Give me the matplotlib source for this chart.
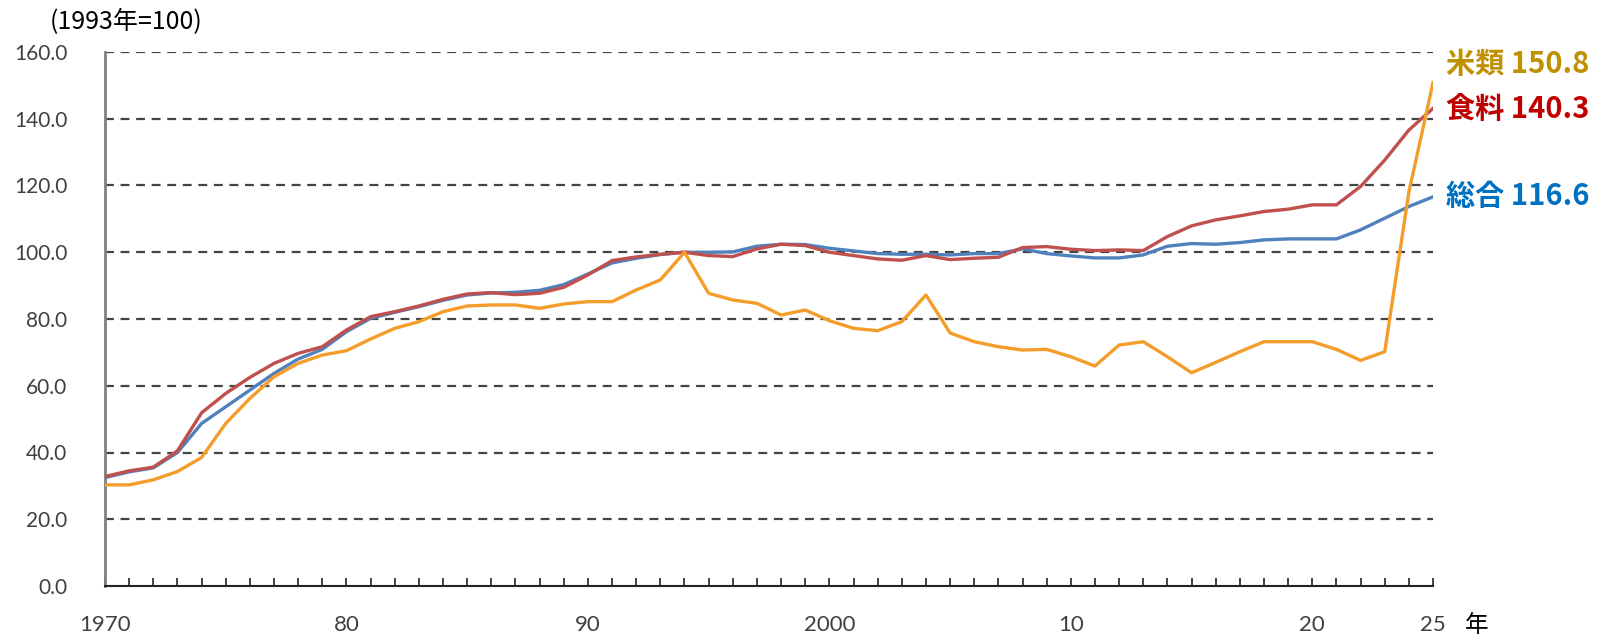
import numpy as np
import matplotlib
matplotlib.use("Agg")
import matplotlib.pyplot as plt

plt.rcParams['font.family'] = ['Noto Sans CJK JP', 'DejaVu Sans']

years = list(range(1970, 2026))

# 総合
total = [32.5, 34.2, 35.4, 40.0, 48.7, 53.7, 58.7, 63.7, 68.0, 70.9,
         76.2, 80.2, 82.0, 83.7, 85.6, 87.2, 87.8, 88.0, 88.6, 90.3,
         93.5, 96.8, 98.2, 99.3, 100.0, 100.0, 100.1, 101.8, 102.4, 102.3,
         101.2, 100.4, 99.6, 99.4, 99.4, 99.2, 99.6, 99.6, 101.0, 99.6,
         98.9, 98.3, 98.3, 99.2, 101.8, 102.6, 102.4, 102.9, 103.7, 104.0,
         104.0, 104.0, 106.7, 110.2, 113.7, 116.6]

# 食料
food = [32.8, 34.5, 35.6, 40.5, 51.9, 57.7, 62.5, 66.7, 69.7, 71.7,
        76.7, 80.7, 82.2, 83.9, 85.9, 87.5, 87.9, 87.3, 87.7, 89.5,
        93.2, 97.5, 98.6, 99.4, 100.0, 99.0, 98.7, 101.0, 102.4, 102.0,
        100.0, 99.0, 98.0, 97.6, 99.0, 97.8, 98.2, 98.5, 101.4, 101.7,
        100.9, 100.5, 100.7, 100.5, 104.7, 107.9, 109.7, 110.9, 112.2, 112.9,
        114.2, 114.2, 119.7, 127.6, 136.6, 143.1]

# 米類
rice = [30.3, 30.3, 31.8, 34.3, 38.5, 48.7, 56.2, 62.7, 66.7, 69.2,
        70.5, 74.0, 77.2, 79.2, 82.2, 83.9, 84.2, 84.2, 83.2, 84.5,
        85.2, 85.2, 88.7, 91.7, 100.0, 87.7, 85.7, 84.7, 81.2, 82.7,
        79.5, 77.2, 76.5, 79.2, 87.2, 75.8, 73.2, 71.7, 70.7, 70.9,
        68.7, 65.9, 72.2, 73.2, 68.7, 63.9, 67.0, 70.2, 73.2, 73.2,
        73.2, 70.9, 67.6, 70.2, 118.0, 150.8]

tick_years = [1970, 1980, 1990, 2000, 2010, 2020, 2025]
tick_labels = ["1970", "80", "90", "2000", "10", "20", "25"]
y_ticks = [0, 20, 40, 60, 80, 100, 120, 140, 160]

end_labels = [("米類 150.8", "#BF9000", 156.4),
              ("食料 140.3", "#C00000", 142.6),
              ("総合 116.6", "#0070C0", 116.9)]

fig = plt.figure(figsize=(16.08, 6.41), dpi=100)
ax = fig.add_axes([105 / 1608, 1 - 586 / 641, (1433 - 105) / 1608, (586 - 52) / 641])

ax.plot(years, total, color="#4F81BD", lw=2.4, zorder=3)
ax.plot(years, food, color="#C0504D", lw=2.4, zorder=4)
ax.plot(years, rice, color="#F59D2A", lw=2.4, zorder=5)

ax.set_xlim(1970, 2025)
ax.set_ylim(0, 160)

for v in y_ticks[1:]:
    ax.axhline(v, color="#444444", lw=1.6, ls=(0, (4, 3)), zorder=1)

ax.set_yticks(y_ticks)
ax.set_yticklabels([f"{v:.1f}" for v in y_ticks], fontsize=15, color="#404040",
                   family=["Lato", "DejaVu Sans"])
ax.tick_params(axis="y", length=0, pad=27)

ax.set_xticks(years, minor=True)
ax.set_xticks(tick_years)
ax.set_xticklabels(tick_labels, fontsize=16, color="#404040",
                   family=["Lato", "DejaVu Sans"])
ax.tick_params(axis="x", which="both", direction="in", length=6, width=1.2,
               color="#222222", pad=21)

for s in ["top", "right"]:
    ax.spines[s].set_visible(False)
ax.spines["left"].set_color("#808080")
ax.spines["left"].set_linewidth(2)
ax.spines["bottom"].set_color("#222222")
ax.spines["bottom"].set_linewidth(1.5)

ax.text(2026.3, -11.8, "年", fontsize=17, ha="left", va="center", clip_on=False)
fig.text(50 / 1608, 1 - 22 / 641, "(1993年=100)", fontsize=18, ha="left", va="center")

for txt, col, yv in end_labels:
    ax.text(2025.55, yv, txt, color=col, fontsize=21, fontweight="bold",
            ha="left", va="center", clip_on=False)

fig.savefig("out.png", dpi=100)
